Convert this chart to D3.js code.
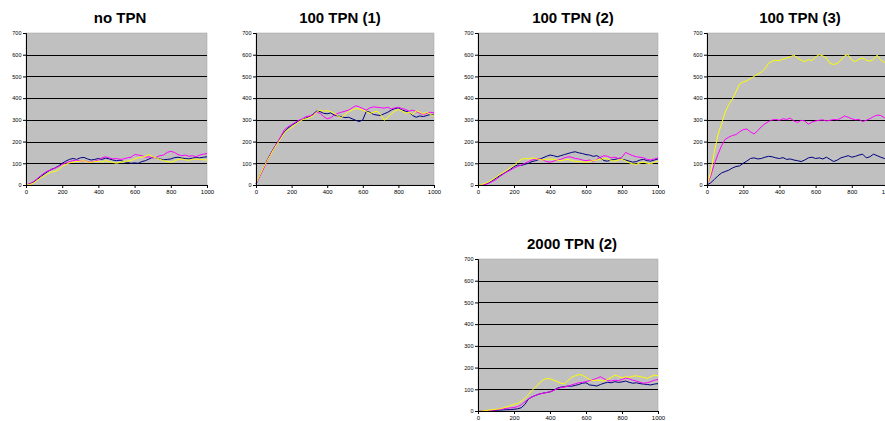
<!DOCTYPE html>
<html>
<head>
<meta charset="utf-8">
<script src="https://cdn.jsdelivr.net/npm/d3@7"></script>
<style>
body { margin: 0; background: #fff; }
svg { display: block; font-family: Arial, "Liberation Sans", sans-serif; }
</style>
</head>
<body>
<div id="chart"></div>
<script>
var steps = [0,20,40,60,80,100,120,140,160,180,200,220,240,260,280,300,320,340,360,380,400,
             420,440,460,480,500,520,540,560,580,600,620,640,660,680,700,720,740,760,780,800,
             820,840,860,880,900,920,940,960,980,1000];
var yTicks = [0,100,200,300,400,500,600,700];
var xTicks = [0,200,400,600,800,1000];
var titles = ["no TPN", "100 TPN (1)", "100 TPN (2)", "100 TPN (3)", "2000 TPN (2)"];

// no TPN
var noTpnNavy = [0,5,12,25,38,50,62,72,78,88,100,110,118,122,118,125,127,120,115,118,122,
                 118,124,120,115,112,114,108,104,100,102,100,108,112,120,128,125,120,116,118,120,
                 126,128,124,122,120,124,126,125,128,130];
var noTpnMagenta = [0,6,15,28,42,55,65,70,78,85,95,102,108,112,115,110,112,108,105,110,115,
                    125,130,125,120,122,118,120,125,128,140,138,135,128,130,124,128,135,138,150,155,
                    150,140,135,138,132,135,130,138,142,145];
var noTpnYellow = [0,2,8,20,32,42,52,60,62,70,85,95,102,105,108,110,112,106,104,108,110,
                   105,112,108,104,100,104,108,110,112,120,125,128,132,140,130,125,118,112,108,105,
                   110,118,120,116,114,118,120,118,116,115];

// 100 TPN (1)
var tpn1Navy = [5,40,75,110,140,170,195,220,245,262,275,285,295,300,308,315,325,340,338,330,328,
                332,322,318,315,310,312,305,298,292,300,340,335,325,322,320,328,335,345,352,355,
                345,340,335,320,312,318,315,320,325,322];
var tpn1Magenta = [5,38,72,105,138,168,195,225,255,268,278,288,298,305,315,318,322,335,330,315,305,
                   310,322,330,335,340,345,355,365,360,352,345,355,360,358,356,354,358,350,355,358,
                   352,348,340,345,338,330,325,330,335,332];
var tpn1Yellow = [8,42,78,108,135,165,190,215,240,255,265,278,290,300,305,310,318,335,345,340,342,
                  338,330,318,310,325,338,345,352,350,345,338,330,335,340,325,298,310,328,340,348,
                  342,330,335,325,342,335,328,335,325,318];

// 100 TPN (2)
var tpn2Navy = [0,0,3,10,20,32,42,52,62,72,85,92,90,95,100,108,112,118,125,132,138,
                135,130,135,140,145,150,153,148,145,140,138,132,135,125,112,110,115,118,122,118,
                115,110,105,108,115,118,112,110,115,120];
var tpn2Magenta = [0,0,2,8,16,25,38,50,60,68,78,85,92,100,108,115,118,122,115,108,105,
                   110,115,118,125,130,128,122,120,115,112,115,108,118,128,135,132,125,128,122,128,
                   150,142,135,130,128,125,118,115,120,125];
var tpn2Yellow = [0,2,8,15,25,36,48,58,68,80,90,105,118,122,120,125,122,118,115,118,120,
                  118,115,112,115,118,112,110,108,106,105,108,112,115,118,122,120,112,110,115,118,
                  110,102,98,95,102,105,100,98,105,110];

// 100 TPN (3)
var tpn3Navy = [0,10,25,42,55,62,68,78,85,88,100,110,122,125,120,122,128,132,130,125,122,
                126,118,120,115,112,108,115,125,128,122,125,120,128,118,108,115,125,130,135,128,
                132,138,142,125,130,142,135,128,122,118];
var tpn3Magenta = [0,40,95,140,180,210,220,228,232,245,255,258,245,235,250,268,282,292,300,302,298,
                   305,302,308,295,288,298,295,280,290,295,298,300,295,298,302,300,308,318,312,305,
                   300,302,292,298,305,315,322,320,310,305];
var tpn3Yellow = [0,55,150,230,280,335,370,395,430,465,475,480,490,500,510,520,535,560,570,575,572,
                  580,585,590,598,585,575,568,578,572,590,600,595,585,560,555,560,575,595,600,575,
                  568,580,585,575,570,578,598,575,565,570];

// 2000 TPN (2)
var tpn2000Navy = [0,0,0,0,2,3,4,5,6,6,8,10,15,30,55,65,72,78,82,85,88,
                   95,105,110,112,115,114,118,122,128,130,120,118,115,122,128,132,130,135,132,134,
                   138,132,128,130,126,124,122,120,124,126];
var tpn2000Magenta = [0,0,0,0,3,5,8,10,12,14,16,20,28,42,55,65,72,78,82,85,88,
                      95,102,108,110,115,120,125,130,132,135,140,145,150,158,148,140,138,142,140,145,
                      152,148,142,138,132,128,130,135,142,145];
var tpn2000Yellow = [0,0,2,4,6,8,10,14,20,25,30,35,45,58,75,95,110,128,142,150,148,
                     142,135,128,125,140,155,162,168,165,155,145,140,142,140,138,145,155,165,160,152,
                     158,155,160,162,158,155,150,158,165,162];

var panelSeries = [
  [noTpnNavy, noTpnMagenta, noTpnYellow],
  [tpn1Navy, tpn1Magenta, tpn1Yellow],
  [tpn2Navy, tpn2Magenta, tpn2Yellow],
  [tpn3Navy, tpn3Magenta, tpn3Yellow],
  [tpn2000Navy, tpn2000Magenta, tpn2000Yellow]
];

var seriesColors = ['#000080', '#ff00ff', '#ffff00'];

// plot boxes of the five small charts
var layout = [
  {left: 26,  right: 207, top: 33,  bottom: 185, titleX: 120},
  {left: 256, right: 434, top: 33,  bottom: 185, titleX: 340},
  {left: 478, right: 658, top: 33,  bottom: 185, titleX: 573},
  {left: 707, right: 888, top: 33,  bottom: 185, titleX: 800},
  {left: 478, right: 658, top: 259, bottom: 411, titleX: 572}
];

var svg = d3.select("#chart").append("svg")
    .attr("width", 885)
    .attr("height", 421);

layout.forEach(function(box, p) {
    var x = d3.scaleLinear().domain([0, 1000]).range([box.left, box.right]);
    var y = d3.scaleLinear().domain([0, 700]).range([box.bottom, box.top]);

    var g = svg.append("g");

    g.append("rect")
        .attr("x", box.left)
        .attr("y", box.top)
        .attr("width", box.right - box.left)
        .attr("height", box.bottom - box.top)
        .style("fill", "#c0c0c0")
        .style("stroke", "#a0a0a0")
        .style("stroke-width", 0.5);

    // gridlines
    g.selectAll("line.grid")
        .data(yTicks.filter(function(d) { return d > 0 && d < 700; }))
        .enter().append("line")
        .attr("class", "grid")
        .attr("x1", box.left)
        .attr("x2", box.right)
        .attr("y1", function(d) { return Math.round(y(d)) + 0.5; })
        .attr("y2", function(d) { return Math.round(y(d)) + 0.5; })
        .style("stroke", "#000")
        .style("stroke-width", 1);

    var line = d3.line()
        .x(function(d, i) { return x(steps[i]); })
        .y(function(d) { return y(d); });

    panelSeries[p].forEach(function(values, s) {
        g.append("path")
            .datum(values)
            .attr("d", line)
            .style("fill", "none")
            .style("stroke", seriesColors[s])
            .style("stroke-width", 1)
            .style("stroke-linejoin", "round");
    });

    var yAxis = g.append("g")
        .attr("transform", "translate(" + box.left + ",0)")
        .call(d3.axisLeft(y).tickValues(yTicks).tickSize(3).tickPadding(1.5)
            .tickFormat(d3.format("d")));
    yAxis.selectAll("text").style("font-size", "5.5px").style("fill", "#000");
    yAxis.selectAll("line, path").style("stroke", "#000");

    var xAxis = g.append("g")
        .attr("transform", "translate(0," + box.bottom + ")")
        .call(d3.axisBottom(x).tickValues(xTicks).tickSize(3).tickPadding(2)
            .tickFormat(d3.format("d")));
    xAxis.selectAll("text").style("font-size", "6px").style("fill", "#000");
    xAxis.selectAll("line, path").style("stroke", "#000");

    g.append("text")
        .attr("x", box.titleX)
        .attr("y", box.top - 10)
        .attr("text-anchor", "middle")
        .style("font-size", "15px")
        .style("font-weight", "bold")
        .style("fill", "#000")
        .text(titles[p]);
});
</script>
</body>
</html>
